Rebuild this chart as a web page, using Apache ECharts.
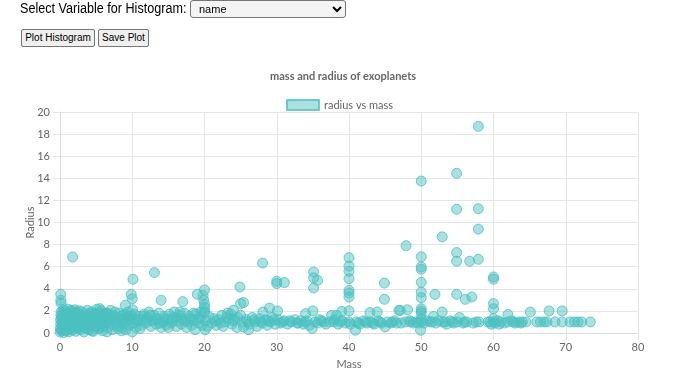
<!DOCTYPE html>
<html>
<head>
<meta charset="utf-8">
<script src="https://cdn.jsdelivr.net/npm/echarts@6/dist/echarts.min.js"></script>
<style>
  body { margin: 0; font-family: "Liberation Sans", Arial, sans-serif; background: #fff; }
  #chart { position: absolute; left: 0; top: 0; width: 700px; height: 376px; }
  .ctl { position: absolute; z-index: 2; white-space: nowrap; }
  #lbl { left: 20px; top: 0px; font-size: 14px; color: #000; transform: scaleX(0.9); transform-origin: left top; }
  #sel { left: 190px; top: 0px; width: 156px; height: 18px; font-size: 11px; border: 1px solid #767676; border-radius: 3px; background: #f4f4f4; box-sizing: border-box; padding: 0 4px; }
  .btn { top: 29px; height: 18px; font-size: 10px; font-family: "Liberation Sans", Arial, sans-serif; border: 1px solid #767676; border-radius: 2px; background: #efefef; box-sizing: border-box; padding: 0; line-height: 16px; color: #000; text-align: center; }
  #b1 { left: 21px; width: 74px; }
  #b2 { left: 98px; width: 51px; }
</style>
</head>
<body>
<div id="chart"></div>
<span class="ctl" id="lbl">Select Variable for Histogram:</span>
<select class="ctl" id="sel"><option>name</option></select>
<button class="ctl btn" id="b1">Plot Histogram</button>
<button class="ctl btn" id="b2">Save Plot</button>
<script>
// [mass, radius]
const radiusVsMass = [
  [0.02,0.1],[0.05,0.4],[0.1,0.8],[0.08,1.2],[0.12,1.6],[0.15,1.9],[0.2,0.2],[0.3,0.6],[0.25,1.0],[0.35,1.4],
  [0.4,1.8],[0.45,2.1],[0.5,0.05],[0.55,0.35],[0.6,0.75],[0.65,1.15],[0.7,1.55],[0.75,2.0],[0.8,0.2],[0.9,0.5],
  [0.95,0.9],[1.0,1.3],[1.05,1.7],[1.1,2.15],[1.2,0.1],[1.3,0.45],[1.35,0.85],[1.4,1.25],[1.5,1.65],[1.55,2.05],
  [1.7,0.25],[1.8,0.6],[1.85,1.0],[1.9,1.4],[2.0,1.8],[2.1,2.1],[2.2,0.15],[2.3,0.55],[2.4,0.95],[2.5,1.35],
  [2.6,1.75],[2.7,2.0],[2.8,0.3],[2.9,0.7],[3.0,1.1],[3.0,1.5],[3.1,1.9],
  [0.1,3.5],[0.12,2.95],[0.15,2.7],[1.75,6.88],
  [3.3,0.1],[3.4,0.5],[3.5,0.9],[3.6,1.3],[3.7,1.7],[3.8,2.05],[4.0,0.3],[4.1,0.7],[4.2,1.1],[4.3,1.5],
  [4.4,1.9],[4.6,0.15],[4.7,0.55],[4.8,0.95],[4.9,1.35],[5.0,1.75],[5.1,2.15],[5.3,0.4],[5.4,0.8],[5.5,1.2],
  [5.6,1.6],[5.7,2.0],[5.9,0.2],[6.0,0.6],[6.1,1.0],[6.2,1.4],[6.3,1.8],[6.5,0.1],[6.6,0.5],[6.7,0.9],
  [6.8,1.3],[6.9,1.7],[7.0,2.05],[7.2,0.3],[7.3,0.75],[7.4,1.15],[7.5,1.55],[7.6,1.9],[7.9,0.6],[8.0,1.0],
  [8.1,1.4],[8.2,1.8],[5.5,2.2],
  [8.5,0.2],[8.6,0.5],[8.7,0.9],[8.8,1.3],[8.9,1.7],[9.05,2.52],[9.1,0.3],[9.2,1.1],[9.3,1.5],[9.4,1.9],
  [9.6,0.7],[9.7,1.2],[9.85,3.5],[10.0,3.1],[10.05,2.1],[10.1,4.86],[9.9,1.6],[10.0,0.1],[10.1,0.9],[10.2,1.3],
  [10.5,0.5],[10.7,1.0],[10.9,1.5],[11.2,0.7],[11.4,1.2],[11.6,1.7],[11.9,0.9],[12.1,1.4],[12.3,1.9],[12.6,0.6],
  [12.8,1.1],[13.0,1.6],[13.07,5.47],[13.3,0.8],[13.5,1.3],[13.7,1.8],[14.0,2.96],[14.0,0.5],[14.2,1.0],[14.4,1.5],
  [14.7,0.7],[14.9,1.2],[15.1,1.7],[15.4,0.9],[15.6,1.4],[15.8,1.9],[16.1,0.6],[16.3,1.1],[16.5,1.6],[16.8,0.8],
  [17.0,2.84],[17.0,1.3],[17.2,1.8],[17.5,0.5],[17.7,1.0],[17.9,1.5],[18.2,0.7],[18.4,1.2],[18.7,0.3],[18.8,1.7],
  [19.0,3.5],[19.1,0.9],[19.3,1.4],[19.5,1.9],[19.8,3.4],[19.9,2.96],[20.0,3.9],[20.0,2.6],[20.0,2.3],[20.0,2.0],
  [20.0,1.8],[20.1,0.3],[20.2,1.1],[20.4,0.6],[20.6,1.5],
  [21.0,0.9],[21.3,1.3],[21.6,0.7],[22.0,1.2],[22.4,1.6],[22.6,0.6],[22.9,1.0],[23.2,1.8],[23.5,1.3],[23.6,1.75],
  [23.8,0.8],[24.0,2.05],[24.2,1.2],[24.5,0.5],[24.9,4.16],[25.0,2.66],[25.4,2.75],[25.0,1.6],[25.2,1.0],[25.4,0.55],
  [26.1,0.3],
  [25.8,1.2],[26.2,0.8],[26.6,1.4],[27.0,1.0],[27.3,0.6],[27.6,1.3],[28.0,0.9],[28.1,1.9],[28.05,6.33],[28.4,1.2],
  [28.7,0.7],[29.0,2.26],[29.1,1.0],[29.4,1.4],[29.8,0.8],[30.0,4.68],[30.0,4.47],[30.1,2.0],[30.2,1.2],[30.5,0.9],
  [31.05,4.56],[31.0,1.1],[31.5,0.8],[32.0,1.0],[32.5,1.2],[33.0,0.9],[33.3,1.1],[33.7,0.8],[34.0,1.75],[34.2,1.1],
  [34.5,0.7],[34.9,0.4],[35.0,2.0],[35.1,5.52],[35.1,5.0],[35.65,4.77],[35.1,4.07],[35.3,1.0],[35.7,0.9],[36.2,1.1],
  [36.8,0.8],[37.3,1.0],[37.6,1.6],[37.9,1.0],[38.3,1.6],[38.5,0.8],[39.0,1.96],[39.0,1.1],[39.5,0.9],
  [40.0,6.82],[40.0,6.06],[40.0,5.58],[40.0,4.92],[40.0,3.86],[40.0,3.62],[40.0,3.26],[40.0,2.0],[40.0,1.0],[40.2,0.8],
  [40.9,0.25],
  [41.0,1.0],[41.5,0.8],[42.0,1.1],[42.5,0.9],[42.9,1.85],[43.0,1.0],[43.5,0.8],[43.9,1.9],[44.0,1.1],[44.5,0.9],
  [44.9,4.52],[44.9,3.05],[45.0,0.55],[45.3,1.0],[45.8,0.9],[46.3,1.1],[46.9,2.05],[47.1,2.05],[47.2,0.9],[47.8,1.0],
  [47.9,7.9],[48.1,2.1],[48.4,1.1],[48.9,0.9],[49.3,1.0],[49.9,0.25],
  [50.0,13.75],[50.0,6.9],[50.0,5.97],[50.0,5.77],[50.0,4.59],[50.0,3.7],[50.0,3.2],[50.0,2.2],[50.0,2.0],[50.0,1.8],
  [50.0,1.3],[50.0,1.0],
  [50.4,0.9],[50.8,1.1],[51.2,1.0],[51.7,1.5],[51.9,3.5],[52.0,0.9],[52.4,1.1],[52.9,8.7],[52.9,1.9],[53.0,1.0],
  [53.5,0.8],[54.0,1.1],[54.5,0.9],[54.9,14.45],[54.9,11.2],[54.9,7.28],[54.9,6.5],[54.9,3.5],[55.0,1.0],[55.3,1.4],
  [55.8,0.9],[56.1,3.05],[56.3,1.0],[56.7,6.5],[57.0,3.26],[57.2,0.9],[57.9,18.7],[57.9,11.25],[57.9,9.4],[57.9,6.67],
  [58.0,1.0],[59.5,1.0],[59.7,0.8],[60.0,5.07],[60.0,4.86],[60.0,2.66],[60.0,2.2],[60.0,1.3],[60.0,1.0],[60.2,0.9],
  [60.6,1.1],[61.0,1.0],[61.5,0.9],[62.0,1.67],[62.0,1.0],[62.5,1.1],[63.0,0.9],[63.5,1.0],[64.0,1.0],[64.5,1.0],
  [65.1,1.9],[66.0,1.0],[66.5,1.0],[67.0,1.0],[67.4,1.0],[67.7,2.0],[68.5,1.0],[69.5,1.0],[69.5,2.0],[70.6,1.0],
  [71.2,1.0],[71.7,1.0],[72.2,1.0],[73.4,1.0],
  // more of the dense band
  [0.3,0.3],[0.6,1.3],[0.9,1.8],[1.2,0.6],[1.5,1.0],[1.8,1.9],[2.1,0.4],[2.4,1.6],[2.7,1.2],[3.2,0.7],
  [3.5,1.5],[3.9,1.0],[4.2,1.8],[4.5,0.8],[4.8,1.6],[5.2,1.0],[5.5,0.5],[5.8,1.4],[6.2,0.8],[6.5,1.8],
  [6.9,1.1],[7.3,1.5],[7.7,0.9],[8.0,0.4],[8.3,1.2],[8.7,1.6],[9.0,0.8],[9.5,1.4],[10.3,1.7],[10.8,1.2],
  [11.1,0.4],[11.5,1.5],[12.0,1.1],[12.5,1.6],[13.2,1.2],[13.8,0.9],[14.5,1.3],[15.0,0.5],[15.5,1.1],[16.0,1.4],
  [16.6,1.9],[17.3,1.1],[18.0,1.3],[18.5,1.8],[19.2,1.2],[19.7,0.7],[21.5,1.1],[22.2,0.9],[23.0,1.4],[23.9,1.1],
  [24.6,1.4],[26.0,1.0],[26.9,1.2],[27.8,1.0],[28.8,1.1],[29.6,1.2],[30.8,1.0],[31.8,1.1],[32.8,0.9],[33.9,1.0],
  [35.9,1.2],[36.5,1.0],[38.0,1.2],[38.8,1.0],[41.3,0.9],[42.3,1.0],[43.3,0.9],[44.3,1.0],[46.0,1.0],[46.6,0.9],
  [48.6,1.0],[49.6,0.9],[51.5,1.0],[53.3,1.0],[54.3,1.0],[56.0,1.0],[57.6,1.0],[59.2,1.0],[60.8,0.8],[62.8,1.0],
  [63.8,0.9],
  [0.2,1.4],[0.5,0.9],[0.8,1.5],[1.1,0.3],[1.4,1.9],[1.7,1.2],[2.0,0.8],[2.3,1.9],[2.6,0.5],[2.9,1.5],
  [3.3,1.2],[3.7,0.4],[4.0,1.4],[4.4,0.2],[4.7,1.2],[5.1,0.6],[5.4,1.8],[5.8,0.9],[6.1,1.7],[6.4,1.2]
];

const seriesName = 'radius vs mass';
const chartTitle = 'mass and radius of exoplanets';
const xName = 'Mass';
const yName = 'Radius';

var chart = echarts.init(document.getElementById('chart'));
let option = {
    animation: false,
    title: {
        text: chartTitle,
        left: 265,
        top: 66,
        textStyle: {
            fontFamily: 'Lato',
            fontSize: 11,
            fontWeight: 'bold',
            color: '#666'
        }
    },
    legend: {
        left: 281,
        top: 94,
        icon: 'rect',
        itemWidth: 32,
        itemHeight: 10,
        itemGap: 5,
        textStyle: {
            fontFamily: 'Lato',
            fontSize: 11,
            color: '#666'
        },
        data: [seriesName]
    },
    grid: {
        left: 60,
        right: 62,
        top: 112,
        bottom: 43
    },
    xAxis: {
        type: 'value',
        min: 0,
        max: 80,
        interval: 10,
        name: xName,
        nameLocation: 'middle',
        nameGap: 26,
        nameMoveOverlap: false,
        nameTextStyle: { fontFamily: 'Lato', fontSize: 11, color: '#666' },
        axisLine: { show: true, lineStyle: { color: '#ddd' } },
        axisTick: { show: true, length: 7, lineStyle: { color: '#e5e5e5' } },
        axisLabel: { fontFamily: 'Lato', fontSize: 11, color: '#666', margin: 9 },
        splitLine: { show: true, lineStyle: { color: '#e5e5e5' } }
    },
    yAxis: {
        type: 'value',
        min: 0,
        max: 20,
        interval: 2,
        name: yName,
        nameLocation: 'middle',
        nameGap: 24,
        nameMoveOverlap: false,
        nameTextStyle: { fontFamily: 'Lato', fontSize: 11, color: '#666' },
        axisLine: { show: true, lineStyle: { color: '#ddd' } },
        axisTick: { show: true, length: 7, lineStyle: { color: '#e5e5e5' } },
        axisLabel: { fontFamily: 'Lato', fontSize: 11, color: '#666', margin: 10 },
        splitLine: { show: true, lineStyle: { color: '#e5e5e5' } }
    },
    series: [
        {
            name: seriesName,
            type: 'scatter',
            symbolSize: 10,
            itemStyle: {
                color: 'rgba(75,192,192,0.6)',
                borderColor: 'rgba(75,192,192,0.95)',
                borderWidth: 1
            },
            data: radiusVsMass
        }
    ]
};
chart.setOption(option);
</script>
</body>
</html>
